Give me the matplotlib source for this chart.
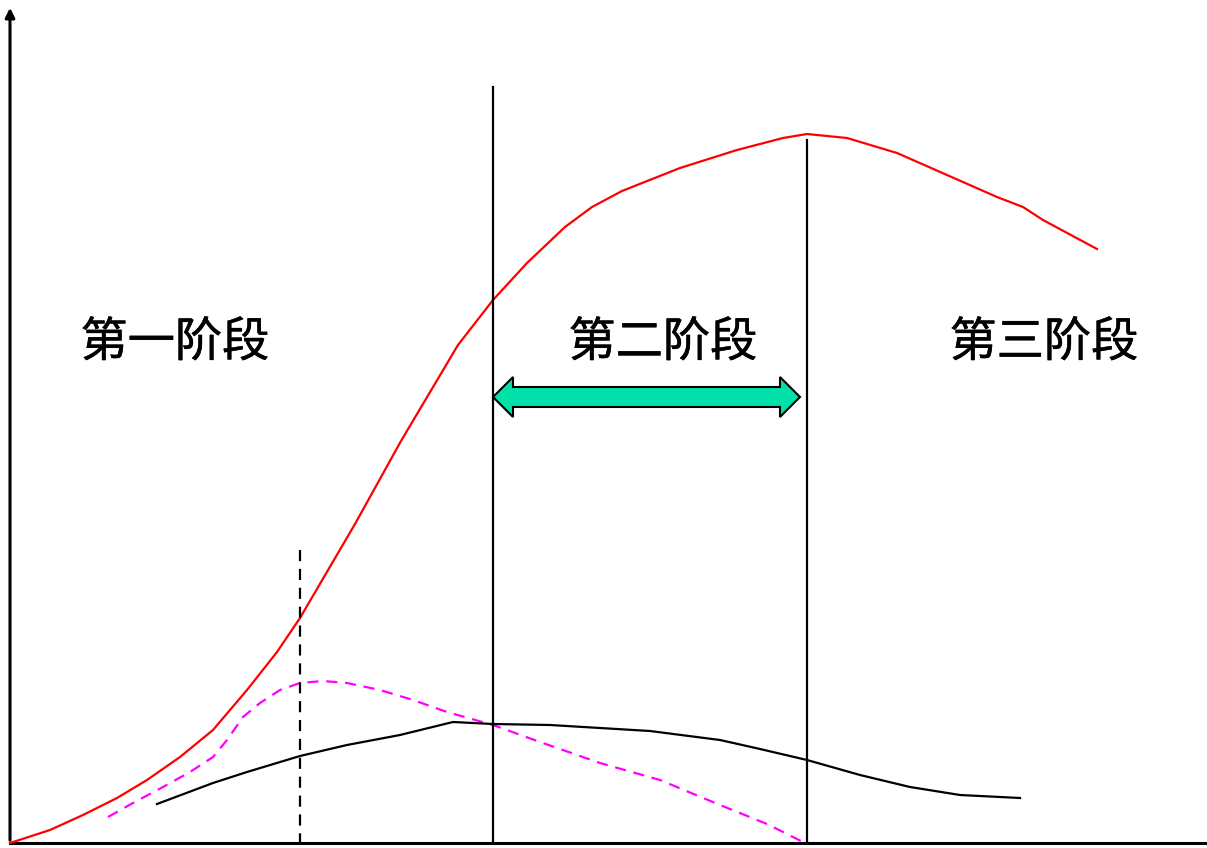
"""Production stages chart: total, marginal and average product curves."""

import matplotlib

matplotlib.use("Agg")
from matplotlib import patheffects  # noqa: E402
from matplotlib import pyplot as plt  # noqa: E402
from matplotlib.patches import Polygon  # noqa: E402

plt.rcParams["font.family"] = ["Noto Sans CJK SC", "DejaVu Sans"]

# picture coordinates (pixels, y grows downward)
tp_x = [10, 50, 83, 117, 147, 180, 213, 247, 277, 300, 355, 401, 439, 458, 493, 527, 565, 592,
        622, 680, 737, 783, 807, 847, 897, 947, 997, 1023, 1043, 1097]
tp_y = [843, 830, 815, 798, 780, 757, 730, 690, 652, 618, 524, 441, 377, 345, 300, 263, 227, 207,
        191, 168, 150, 138, 134, 138, 153, 175, 197, 207, 220, 249]

mp_x = [108, 133, 163, 190, 213, 227, 243, 260, 280, 300, 323, 347, 380, 413, 447, 493, 540, 600,
        660, 720, 767, 805]
mp_y = [817, 803, 787, 772, 757, 740, 717, 703, 690, 683, 681, 683, 690, 700, 712, 725, 742, 763,
        780, 805, 824, 843]

ap_x = [157, 213, 247, 300, 347, 400, 453, 493, 550, 650, 720, 760, 807, 860, 910, 960, 1020]
ap_y = [804, 783, 772, 756, 745, 735, 722, 724, 725, 731, 740, 749, 760, 775, 787, 795, 798]

stage_labels = ["第一阶段", "第二阶段", "第三阶段"]
stage_label_x = [175, 663, 1044]
stage_label_y = 343

boundary_x = [493, 807]
boundary_top = [87, 140]
mp_peak_x = 300
mp_peak_top = 550

origin = (10, 843)
width, height = 1207, 848

fig = plt.figure(figsize=(12.07, 8.48), dpi=100)
ax = fig.add_axes([0, 0, 1, 1])
ax.set_xlim(0, width)
ax.set_ylim(height, 0)
ax.axis("off")

# axes with arrow on y
ax.plot([origin[0], width], [origin[1], origin[1]], color="black", lw=2.2)
ax.annotate("", xy=(origin[0], 5), xytext=(origin[0], origin[1]),
            arrowprops=dict(arrowstyle="-|>", color="black", lw=2.2, mutation_scale=14))

ax.plot(tp_x, tp_y, color="red", lw=1.6, solid_joinstyle="round")
ax.plot(mp_x, mp_y, color="#ff00ff", lw=1.6, ls=(0, (5, 3.5)))
ax.plot(ap_x, ap_y, color="black", lw=1.6, solid_joinstyle="round")

for bx, top in zip(boundary_x, boundary_top):
    ax.plot([bx, bx], [top, origin[1]], color="black", lw=1.6)
ax.plot([mp_peak_x, mp_peak_x], [mp_peak_top, origin[1]], color="black", lw=1.6, ls=(0, (5, 3.5)))

for label, lx in zip(stage_labels, stage_label_x):
    ax.text(lx, stage_label_y, label, fontsize=34, ha="center", va="center",
            path_effects=[patheffects.withStroke(linewidth=0.35, foreground="black")])

# double-headed arrow between the stage boundaries
arrow_left, arrow_right, arrow_y = 493, 800, 397
body_half, head_half, head_len = 10, 20, 20
arrow_pts = [
    (arrow_left, arrow_y),
    (arrow_left + head_len, arrow_y - head_half),
    (arrow_left + head_len, arrow_y - body_half),
    (arrow_right - head_len, arrow_y - body_half),
    (arrow_right - head_len, arrow_y - head_half),
    (arrow_right, arrow_y),
    (arrow_right - head_len, arrow_y + head_half),
    (arrow_right - head_len, arrow_y + body_half),
    (arrow_left + head_len, arrow_y + body_half),
    (arrow_left + head_len, arrow_y + head_half),
]
ax.add_patch(Polygon(arrow_pts, closed=True, facecolor="#00e0a8", edgecolor="black", lw=1.5, zorder=3))

fig.savefig("out.png", dpi=100)
